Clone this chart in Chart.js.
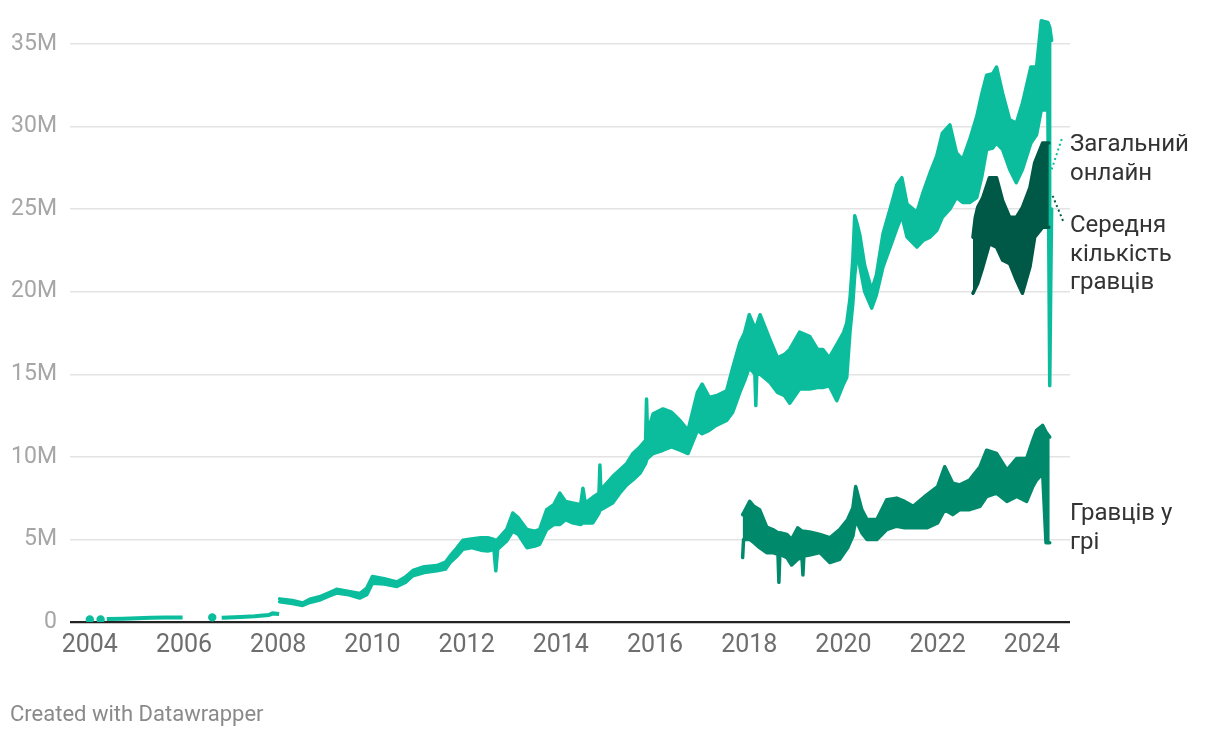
<!DOCTYPE html>
<html lang="uk">
<head>
  <meta charset="UTF-8" />
  <title>Steam online</title>
  <script src="https://cdn.jsdelivr.net/npm/chart.js"></script>
  <style>
    body { margin: 0; background: #fff; font-family: Roboto, sans-serif; }
    #wrap { position: relative; width: 1220px; height: 738px; }
    .lbl { position: absolute; left: 1070px; font-size: 24px; line-height: 28.5px; color: #333; }
    #credit { position: absolute; left: 10px; top: 701px; font-size: 22px; color: #8a8a8a; }
  </style>
</head>
<body>
  <div id="wrap">
    <canvas id="chart" width="1220" height="738"></canvas>
    <div class="lbl" style="top:129px">Загальний<br>онлайн</div>
    <div class="lbl" style="top:210px">Середня<br>кількість<br>гравців</div>
    <div class="lbl" style="top:498px">Гравців у<br>грі</div>
    <div id="credit">Created with Datawrapper</div>
  </div>

  <script>
    // axis ticks
    const xTicks = [2004, 2006, 2008, 2010, 2012, 2014, 2016, 2018, 2020, 2022, 2024];
    const yTicks = [0, 5, 10, 15, 20, 25, 30, 35];

    // early online (millions), null = no data
    const earlyYears  = [2004.00, 2004.10, 2004.23, 2004.30, 2004.36, 2004.70, 2005.00, 2005.30, 2005.60, 2005.97, 2006.30, 2006.60, 2006.70, 2006.80, 2007.20, 2007.50, 2007.80, 2007.88, 2008.02];
    const earlyOnline = [0.15, null, 0.15, null, 0.18, 0.20, 0.22, 0.25, 0.27, 0.27, null, 0.28, null, 0.25, 0.30, 0.35, 0.42, 0.52, 0.48];

    // total online from 2008 (daily range: high / low, millions)
    const onlineYears = [2008.03, 2008.30, 2008.52, 2008.67, 2008.90, 2009.10, 2009.24, 2009.50, 2009.73, 2009.88,
      2010.00, 2010.25, 2010.52, 2010.70, 2010.86, 2011.10, 2011.37, 2011.55, 2011.65, 2011.80, 2011.92,
      2012.10, 2012.30, 2012.45, 2012.58, 2012.62, 2012.66, 2012.85, 2012.98, 2013.10, 2013.28, 2013.45, 2013.55, 2013.70, 2013.85, 2013.98,
      2014.10, 2014.25, 2014.42, 2014.47, 2014.52, 2014.68, 2014.81, 2014.83, 2014.85,
      2015.10, 2015.25, 2015.40, 2015.53, 2015.68, 2015.80, 2015.82, 2015.84, 2015.96,
      2016.17, 2016.35, 2016.53, 2016.70, 2016.90, 2017.00, 2017.15, 2017.30, 2017.52, 2017.65, 2017.80, 2017.90,
      2018.00, 2018.12, 2018.14, 2018.16, 2018.23, 2018.44, 2018.60, 2018.75, 2018.86,
      2019.07, 2019.28, 2019.45, 2019.56, 2019.70, 2019.86,
      2020.00, 2020.07, 2020.14, 2020.20, 2020.24, 2020.30, 2020.35, 2020.45, 2020.60, 2020.70, 2020.84,
      2021.03, 2021.13, 2021.24, 2021.35, 2021.56, 2021.69, 2021.84, 2021.98,
      2022.10, 2022.26, 2022.40, 2022.53, 2022.68, 2022.83, 2022.94,
      2023.04, 2023.17, 2023.25, 2023.38, 2023.53, 2023.67, 2023.80, 2023.98,
      2024.10, 2024.20, 2024.34, 2024.38, 2024.40, 2024.42];
    const onlineHigh = [1.40, 1.30, 1.15, 1.38, 1.55, 1.80, 1.98, 1.85, 1.72, 2.05,
      2.75, 2.62, 2.42, 2.72, 3.12, 3.35, 3.42, 3.62, 4.00, 4.50, 4.95,
      5.02, 5.10, 5.10, 5.00, 4.90, 5.00, 5.60, 6.60, 6.30, 5.60, 5.50, 5.60, 6.80, 7.10, 7.80,
      7.30, 7.20, 7.10, 8.10, 7.20, 7.55, 7.80, 9.50, 8.00,
      8.80, 9.20, 9.60, 10.20, 10.60, 11.00, 13.50, 11.50, 12.60,
      12.90, 12.70, 12.20, 11.60, 13.90, 14.40, 13.60, 13.70, 14.00, 15.40, 16.90, 17.50,
      18.60, 17.80, 17.80, 18.00, 18.60, 17.10, 16.00, 16.20, 16.50,
      17.55, 17.30, 16.50, 16.50, 16.00, 16.80,
      17.50, 18.10, 19.60, 22.00, 24.60, 24.00, 23.40, 21.60, 20.10, 21.00, 23.50,
      25.40, 26.45, 26.90, 25.30, 24.80, 26.00, 27.20, 28.20,
      29.60, 30.10, 28.40, 28.00, 29.20, 30.60, 32.00,
      33.10, 33.20, 33.60, 32.00, 30.40, 30.20, 31.40, 33.60,
      33.60, 36.40, 36.30, 36.00, 35.60, 35.20];
    const onlineLow = [1.22, 1.12, 1.00, 1.18, 1.35, 1.60, 1.75, 1.65, 1.45, 1.65,
      2.35, 2.30, 2.15, 2.40, 2.80, 3.00, 3.10, 3.20, 3.60, 4.00, 4.40,
      4.50, 4.35, 4.30, 4.40, 3.10, 4.40, 4.90, 5.50, 5.30, 4.50, 4.60, 4.70, 5.60, 5.90, 5.90,
      6.20, 6.00, 5.90, 6.00, 6.00, 6.00, 6.60, 6.80, 6.80,
      7.20, 7.80, 8.30, 8.60, 9.00, 9.60, 9.80, 9.90, 10.20,
      10.40, 10.60, 10.40, 10.20, 11.60, 11.40, 11.60, 11.90, 12.20, 12.70, 13.90, 14.60,
      15.40, 15.00, 13.10, 15.00, 15.00, 14.50, 13.90, 13.70, 13.25,
      14.10, 14.10, 14.20, 14.20, 14.30, 13.40,
      14.40, 14.80, 17.60, 19.30, 21.00, 22.50, 21.50, 20.00, 19.00, 19.80, 21.50,
      23.00, 23.80, 24.60, 23.30, 22.70, 23.10, 23.30, 23.70,
      24.50, 25.00, 25.70, 25.40, 25.40, 25.70, 27.00,
      28.60, 28.70, 29.00, 28.60, 27.40, 26.60, 27.40, 29.00,
      29.50, 31.00, 31.00, 14.30, 20.10, 25.00];

    // average players (dark)
    const avgYears = [2022.75, 2022.80, 2022.85, 2022.96, 2023.10, 2023.25, 2023.38, 2023.53, 2023.67, 2023.80, 2023.96, 2024.06, 2024.23, 2024.36];
    const avgHigh  = [23.3, 24.5, 25.1, 25.7, 26.9, 26.9, 25.5, 24.5, 24.5, 25.1, 26.3, 27.8, 29.0, 29.0];
    const avgLow   = [19.9, 20.2, 20.5, 21.5, 22.9, 22.7, 21.9, 21.7, 20.7, 19.9, 21.5, 23.3, 23.9, 23.9];

    // players in game (medium)
    const gameYears = [2017.86, 2017.88, 2018.01, 2018.10, 2018.22, 2018.37, 2018.50, 2018.61, 2018.63, 2018.65, 2018.80, 2018.90,
      2019.03, 2019.12, 2019.14, 2019.16, 2019.28, 2019.50, 2019.71, 2019.92,
      2020.09, 2020.20, 2020.26, 2020.39, 2020.50, 2020.71, 2020.92,
      2021.13, 2021.30, 2021.48, 2021.77, 2022.00, 2022.15, 2022.32, 2022.47, 2022.68, 2022.90,
      2023.04, 2023.25, 2023.47, 2023.68, 2023.89, 2024.02, 2024.10, 2024.23, 2024.30, 2024.38];
    const gameHigh = [6.5, 6.6, 7.3, 7.0, 6.8, 5.75, 5.6, 5.4, 5.3, 5.4, 5.3, 5.0,
      5.7, 5.5, 5.4, 5.5, 5.45, 5.3, 5.1, 5.6,
      6.2, 6.9, 8.2, 6.8, 6.2, 6.2, 7.4,
      7.5, 7.3, 7.0, 7.7, 8.2, 9.4, 8.4, 8.3, 8.6, 9.4,
      10.4, 10.2, 9.2, 9.9, 9.9, 11.0, 11.6, 11.9, 11.5, 11.2];
    const gameLow = [3.9, 5.0, 5.0, 4.8, 4.5, 4.2, 4.2, 4.1, 2.4, 4.1, 3.9, 3.45,
      3.8, 3.9, 2.85, 4.0, 4.05, 4.2, 3.6, 3.8,
      4.5, 5.2, 6.2, 5.4, 5.0, 5.0, 5.6,
      5.8, 5.7, 5.7, 5.7, 6.0, 6.8, 6.5, 6.8, 6.8, 7.0,
      7.6, 7.8, 7.3, 7.6, 7.3, 8.2, 8.6, 9.0, 4.8, 4.8];

    const LIGHT = '#0bbd9c';
    const MID = '#008a6b';
    const DARK = '#005847';

    const pts = (xs, ys) => xs.map((x, i) => ({ x: x, y: ys[i] }));

    function band(xs, hi, lo, color, order) {
      const common = {
        borderColor: color, borderWidth: 3.5, pointRadius: 0,
        borderJoinStyle: 'round', borderCapStyle: 'round', order: order, clip: false
      };
      return [
        Object.assign({ data: pts(xs, lo), fill: false }, common),
        Object.assign({ data: pts(xs, hi), fill: '-1', backgroundColor: color }, common)
      ];
    }

    const connectors = {
      id: 'connectors',
      afterDatasetsDraw(chart) {
        const { ctx, scales: { x, y } } = chart;
        const x0 = x.getPixelForValue(2024.42);
        ctx.save();
        ctx.lineWidth = 2;
        ctx.setLineDash([2, 3]);
        ctx.strokeStyle = LIGHT;
        ctx.beginPath();
        ctx.moveTo(x0, y.getPixelForValue(27.4));
        ctx.lineTo(x0 + 11, y.getPixelForValue(29.4));
        ctx.stroke();
        ctx.strokeStyle = DARK;
        ctx.beginPath();
        ctx.moveTo(x0 + 1, y.getPixelForValue(25.8));
        ctx.lineTo(x0 + 12, y.getPixelForValue(24.2));
        ctx.stroke();
        ctx.restore();
      }
    };

    new Chart(document.getElementById('chart'), {
      type: 'line',
      data: {
        datasets: [
          {
            data: pts(earlyYears, earlyOnline), borderColor: LIGHT, backgroundColor: LIGHT,
            borderWidth: 4, spanGaps: false, fill: false, order: 3,
            pointRadius: c => (earlyOnline[c.dataIndex - 1] == null && earlyOnline[c.dataIndex + 1] == null) ? 2.2 : 0
          },
          ...band(onlineYears, onlineHigh, onlineLow, LIGHT, 3),
          ...band(gameYears, gameHigh, gameLow, MID, 2),
          ...band(avgYears, avgHigh, avgLow, DARK, 1)
        ]
      },
      options: {
        responsive: false,
        animation: false,
        layout: { padding: { top: 0, right: 150, left: 0, bottom: 0 } },
        plugins: { legend: { display: false }, tooltip: { enabled: false } },
        scales: {
          x: {
            type: 'linear', min: 2003.58, max: 2024.81,
            afterBuildTicks: s => { s.ticks = xTicks.map(v => ({ value: v })); },
            afterFit: s => { s.height = 116; },
            grid: { display: false, drawTicks: false },
            border: { display: false },
            ticks: {
              color: '#6e6e6e', font: { family: 'Roboto', size: 25 }, padding: 9,
              maxRotation: 0, autoSkip: false, callback: v => String(v)
            }
          },
          y: {
            min: 0, max: 36.8,
            afterBuildTicks: s => { s.ticks = yTicks.map(v => ({ value: v })); },
            afterFit: s => { s.width = 70; },
            grid: {
              drawTicks: false,
              color: c => (c.tick && c.tick.value === 0) ? '#222' : '#e3e3e3',
              lineWidth: c => (c.tick && c.tick.value === 0) ? 2.2 : 1.4
            },
            border: { display: false },
            ticks: {
              color: '#a6a6a6', font: { family: 'Roboto', size: 23, lineHeight: 0.1 }, padding: 13,
              callback: v => v === 0 ? '0' : v + 'M'
            }
          }
        }
      },
      plugins: [connectors]
    });
  </script>
</body>
</html>
